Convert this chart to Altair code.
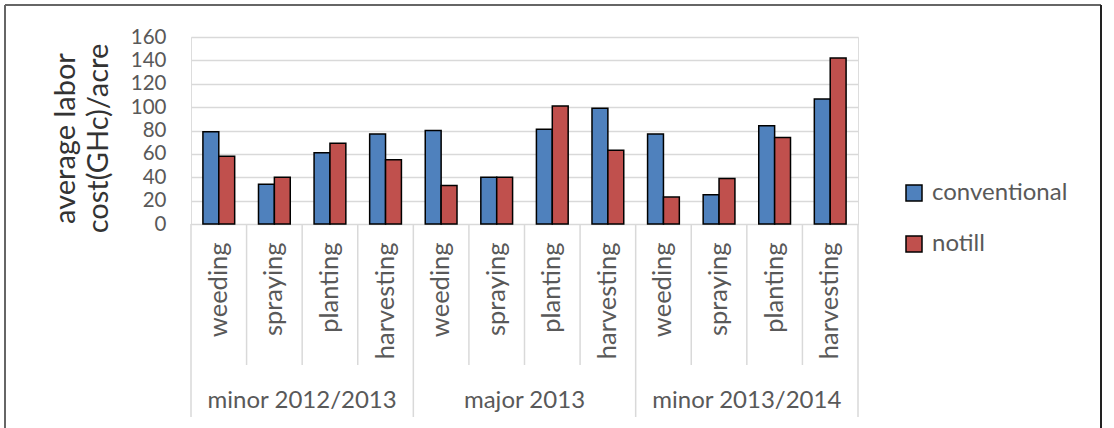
import altair as alt
import pandas as pd

# Labour cost per acre by season, task and tillage system
seasons = ["minor 2012/2013", "major 2013", "minor 2013/2014"]
tasks = ["weeding", "spraying", "planting", "harvesting"]
series = ["conventional", "notill"]
conventional = [79, 34, 61, 77, 80, 40, 81, 99, 77, 25, 84, 107]
notill = [58, 40, 69, 55, 33, 40, 101, 63, 23, 39, 74, 142]
y_ticks = [0, 20, 40, 60, 80, 100, 120, 140, 160]

FONT = "Lato"
GREY = "#595959"
LINE = "#d9d9d9"
W, H = 667, 187

keys = [f"{s}|{t}" for s in seasons for t in tasks]
rows = []
for idx, k in enumerate(keys):
    season, task = k.split("|")
    rows.append({"key": k, "season": season, "task": task, "series": "conventional", "cost": conventional[idx]})
    rows.append({"key": k, "season": season, "task": task, "series": "notill", "cost": notill[idx]})
df = pd.DataFrame(rows)

x_scale = alt.Scale(domain=keys, paddingInner=0, paddingOuter=0)

bars = alt.Chart(df).mark_bar(stroke="black", strokeWidth=1.5).encode(
    x=alt.X(
        "key:N",
        scale=x_scale,
        sort=keys,
        axis=alt.Axis(
            title=None,
            labelExpr="split(datum.value, '|')[1]",
            labelAngle=270,
            labelFontSize=25.5,
            labelColor=GREY,
            labelPadding=18,
            ticks=False,
            domain=False,
            grid=False,
        ),
    ),
    xOffset=alt.XOffset("series:N", scale=alt.Scale(domain=series, paddingInner=0, paddingOuter=0.75)),
    y=alt.Y(
        "cost:Q",
        scale=alt.Scale(domain=[0, 160], nice=False),
        axis=alt.Axis(
            values=y_ticks,
            title=["average labor", "cost(GHc)/acre"],
            titleFontSize=29,
            titleLineHeight=33,
            titleFontWeight="normal",
            titleColor="#333333",
            titlePadding=17,
            titleY=101,
            labelFontSize=20.5,
            labelColor=GREY,
            labelPadding=25,
            labelOverlap=False,
            labelBaseline="middle",
            ticks=False,
            domain=False,
            gridColor=LINE,
            gridWidth=1.5,
        ),
    ),
    color=alt.Color(
        "series:N",
        scale=alt.Scale(domain=series, range=["#4f81bd", "#c0504d"]),
        legend=alt.Legend(
            title=None,
            orient="none",
            legendX=711,
            legendY=144,
            symbolType="square",
            symbolSize=256,
            symbolStrokeColor="black",
            symbolStrokeWidth=1.5,
            labelFontSize=24,
            labelColor=GREY,
            labelOffset=6,
            rowPadding=27,
        ),
    ),
)

# Category dividers below the plot
inner_df = pd.DataFrame({"key": [k for i, k in enumerate(keys) if i % 4 != 0]})
group_df = pd.DataFrame({"key": [k for i, k in enumerate(keys) if i % 4 == 0]})
end_df = pd.DataFrame({"key": [keys[-1]]})

inner_rules = alt.Chart(inner_df).mark_rule(color=LINE, strokeWidth=1.5).encode(
    x=alt.X("key:N", scale=x_scale, sort=keys, bandPosition=0),
    y=alt.value(H),
    y2=alt.value(H + 141),
)
group_rules = alt.Chart(group_df).mark_rule(color=LINE, strokeWidth=1.5).encode(
    x=alt.X("key:N", scale=x_scale, sort=keys, bandPosition=0),
    y=alt.value(H),
    y2=alt.value(H + 193),
)
end_rule = alt.Chart(end_df).mark_rule(color=LINE, strokeWidth=1.5).encode(
    x=alt.X("key:N", scale=x_scale, sort=keys, bandPosition=1),
    y=alt.value(H),
    y2=alt.value(H + 193),
)

# Season labels centred under each group of four tasks
season_df = pd.DataFrame({"key": [keys[i * 4 + 1] for i in range(len(seasons))], "season": seasons})
season_text = alt.Chart(season_df).mark_text(
    fontSize=24, color=GREY, font=FONT, baseline="middle", align="center"
).encode(
    x=alt.X("key:N", scale=x_scale, sort=keys, bandPosition=1),
    y=alt.value(H + 177),
    text="season:N",
)

# Outer frame
one = pd.DataFrame({"a": [0]})
frame_top = alt.Chart(one).mark_rule(color="#666666", strokeWidth=2).encode(
    x=alt.value(-186), x2=alt.value(910), y=alt.value(-32)
)
frame_left = alt.Chart(one).mark_rule(color="#666666", strokeWidth=2).encode(
    x=alt.value(-186), y=alt.value(-32), y2=alt.value(400)
)
frame_right = alt.Chart(one).mark_rule(color="#222222", strokeWidth=2).encode(
    x=alt.value(910), y=alt.value(-32), y2=alt.value(400)
)

chart = (
    alt.layer(inner_rules, group_rules, end_rule, bars, season_text, frame_top, frame_left, frame_right)
    .properties(
        width=W,
        height=H,
        autosize="none",
        padding={"left": 191, "top": 37, "right": 256, "bottom": 204},
        background="white",
    )
    .configure_view(strokeWidth=0)
    .configure(font=FONT)
)

chart.save("out.html", embed_options={"renderer": "svg", "actions": False})
